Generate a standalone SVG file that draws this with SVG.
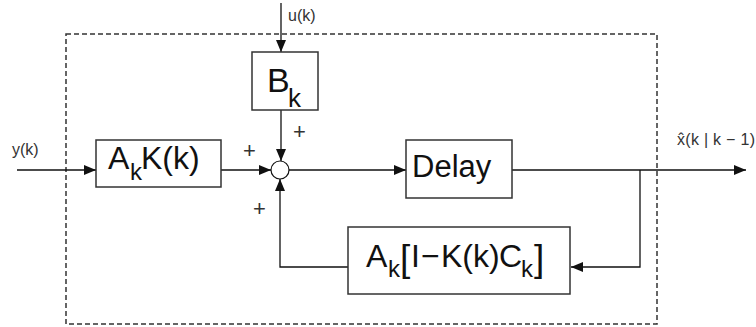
<svg xmlns="http://www.w3.org/2000/svg" width="756" height="327" viewBox="0 0 756 327">
<defs>
<style>
.box{fill:#fff;stroke:#333;stroke-width:1.5}
.ln{fill:none;stroke:#111;stroke-width:1.3}
.t{font-family:"Liberation Sans",Arial,sans-serif;fill:#111}
.big{font-size:32px}
.sub{font-size:24px}
.lbl{font-size:16px;fill:#333}
.pl{font-size:22px;fill:#333}
</style>
<marker id="ah" viewBox="0 0 12 10" refX="12" refY="5" markerWidth="12" markerHeight="10" markerUnits="userSpaceOnUse" orient="auto">
<path d="M0,0 L12,5 L0,10 Z" fill="#111"/>
</marker>
</defs>
<rect width="756" height="327" fill="#fff"/>
<rect x="66" y="34" width="591" height="290" fill="none" stroke="#333" stroke-width="1.5" stroke-dasharray="5,3"/>
<g id="connectors">
<line class="ln" x1="281" y1="3" x2="281" y2="52" marker-end="url(#ah)"/>
<line class="ln" x1="281" y1="110" x2="281" y2="161" marker-end="url(#ah)"/>
<line class="ln" x1="17" y1="170" x2="96" y2="170" marker-end="url(#ah)"/>
<line class="ln" x1="221" y1="170" x2="271" y2="170" marker-end="url(#ah)"/>
<line class="ln" x1="289" y1="170" x2="406" y2="170" marker-end="url(#ah)"/>
<line class="ln" x1="512" y1="170" x2="746" y2="170" marker-end="url(#ah)"/>
<polyline class="ln" points="640,170 640,267 571,267" marker-end="url(#ah)"/>
<polyline class="ln" points="348,267 280,267 280,179" marker-end="url(#ah)"/>
</g>
<g id="sum">
<circle cx="280" cy="170" r="9" fill="#fff" stroke="#111" stroke-width="1.2"/>
<text class="t pl" x="293" y="139">+</text>
<text class="t pl" x="243" y="158">+</text>
<text class="t pl" x="253" y="216">+</text>
</g>
<g id="Bk">
<rect class="box" x="252" y="52" width="66" height="58"/>
<text class="t"><tspan x="267" y="92" font-size="34">B</tspan><tspan x="288" y="107" font-size="26">k</tspan></text>
</g>
<g id="AkKk">
<rect class="box" x="96" y="140" width="125" height="47"/>
<text class="t"><tspan class="big" x="108" y="169">A</tspan><tspan class="sub" x="130" y="180">k</tspan><tspan class="big" x="141" y="169">K(k)</tspan></text>
</g>
<g id="delay">
<rect class="box" x="406" y="140" width="106" height="58"/>
<text class="t" x="412" y="177" font-size="31">Delay</text>
</g>
<g id="feedback">
<rect class="box" x="348" y="227" width="222" height="67"/>
<text class="t"><tspan class="big" x="366" y="267">A</tspan><tspan class="sub" x="388" y="277">k</tspan><tspan x="400" y="271" font-size="37">[</tspan><tspan class="big" x="411" y="267">I</tspan><tspan class="big" x="421" y="267">−</tspan><tspan class="big" x="441" y="267">K(k)</tspan><tspan class="big" x="499" y="267">C</tspan><tspan class="sub" x="521" y="277">k</tspan><tspan x="534" y="271" font-size="37">]</tspan></text>
</g>
<g id="labels">
<text class="t lbl" x="12" y="155">y(k)</text>
<text class="t lbl" x="288" y="21">u(k)</text>
<text class="t lbl" x="677" y="145" textLength="78">x̂(k | k − 1)</text>
</g>
</svg>
